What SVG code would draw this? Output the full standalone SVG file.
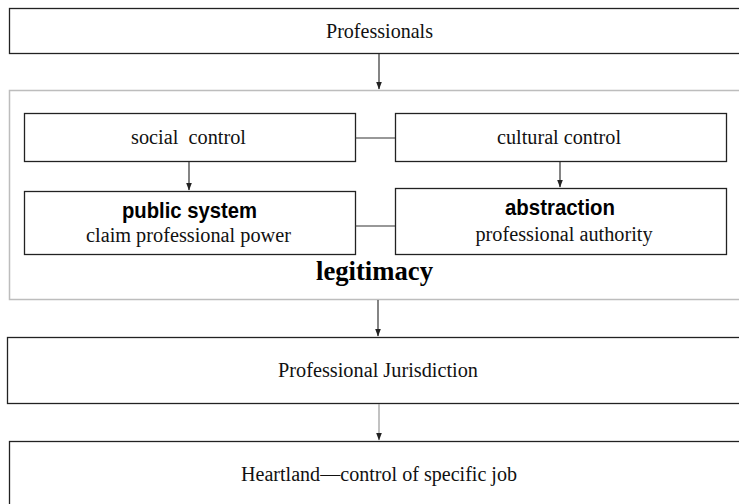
<svg xmlns="http://www.w3.org/2000/svg" width="739" height="504" viewBox="0 0 739 504">
  <style>
    .box { fill: #ffffff; stroke: #222222; stroke-width: 1.3; }
    .frame { fill: #ffffff; stroke: #bdbdbd; stroke-width: 1.5; }
    .serif { font-family: "Liberation Serif", "Times New Roman", serif; font-size: 20.5px; fill: #111111; text-anchor: middle; white-space: pre; }
    .sansb { font-family: "Liberation Sans", Arial, sans-serif; font-size: 21.5px; font-weight: bold; fill: #000000; text-anchor: middle; }
    .big { font-family: "Liberation Serif", "Times New Roman", serif; font-size: 27.5px; font-weight: bold; fill: #000000; text-anchor: middle; }
    .link { stroke: #333333; stroke-width: 1.2; fill: none; }
    .arrow { stroke: #333333; stroke-width: 1.2; fill: none; marker-end: url(#head); }
    .arrow-grey { stroke: #999999; stroke-width: 1.2; fill: none; marker-end: url(#head); }
  </style>
  <defs>
    <marker id="head" viewBox="0 0 8 8" refX="7.5" refY="4" markerWidth="8" markerHeight="8" markerUnits="userSpaceOnUse" orient="auto">
      <path d="M0,1 L8,4 L0,7 Z" fill="#222222"/>
    </marker>
  </defs>

  <rect width="739" height="504" fill="#ffffff"/>

  <!-- legitimacy frame around the four control boxes -->
  <g id="legitimacy">
    <rect class="frame" x="9.5" y="90.5" width="740" height="209"/>
    <text class="big" x="374.5" y="280" textLength="117" lengthAdjust="spacingAndGlyphs">legitimacy</text>
  </g>

  <g id="professionals">
    <rect class="box" x="9.5" y="8.5" width="740" height="45"/>
    <text class="serif" x="379.5" y="38" style="font-size:21.5px" textLength="107" lengthAdjust="spacingAndGlyphs">Professionals</text>
  </g>

  <g id="social-control">
    <rect class="box" x="24.5" y="113.5" width="331" height="48"/>
    <text class="serif" x="188.5" y="144" textLength="115" lengthAdjust="spacingAndGlyphs" xml:space="preserve">social  control</text>
  </g>

  <g id="cultural-control">
    <rect class="box" x="395.5" y="113.5" width="331" height="48"/>
    <text class="serif" x="559" y="144" textLength="124" lengthAdjust="spacingAndGlyphs">cultural control</text>
  </g>

  <g id="public-system">
    <rect class="box" x="24.5" y="191.5" width="331" height="63"/>
    <text class="sansb" x="189.5" y="217.5" textLength="135" lengthAdjust="spacingAndGlyphs">public system</text>
    <text class="serif" x="188.5" y="242" textLength="205" lengthAdjust="spacingAndGlyphs">claim professional power</text>
  </g>

  <g id="abstraction">
    <rect class="box" x="395.5" y="188.5" width="331" height="66"/>
    <text class="sansb" x="560" y="214.5" textLength="110" lengthAdjust="spacingAndGlyphs">abstraction</text>
    <text class="serif" x="564" y="241" textLength="177" lengthAdjust="spacingAndGlyphs">professional authority</text>
  </g>

  <g id="jurisdiction">
    <rect class="box" x="7.5" y="337.5" width="740" height="66"/>
    <text class="serif" x="378" y="377" textLength="200" lengthAdjust="spacingAndGlyphs">Professional Jurisdiction</text>
  </g>

  <g id="heartland">
    <rect class="box" x="9.5" y="441.5" width="740" height="80"/>
    <text class="serif" x="379" y="481" textLength="276" lengthAdjust="spacingAndGlyphs">Heartland—control of specific job</text>
  </g>

  <g id="connectors">
    <line class="arrow" x1="379" y1="54" x2="379" y2="89"/>
    <line class="link" x1="355" y1="138" x2="395" y2="138"/>
    <line class="link" x1="355" y1="226" x2="395" y2="226"/>
    <line class="arrow" x1="189" y1="162" x2="189" y2="190"/>
    <line class="arrow" x1="560" y1="162" x2="560" y2="187"/>
    <line class="arrow" x1="378" y1="300" x2="378" y2="336"/>
    <line class="arrow-grey" x1="379" y1="404" x2="379" y2="440"/>
  </g>
</svg>
